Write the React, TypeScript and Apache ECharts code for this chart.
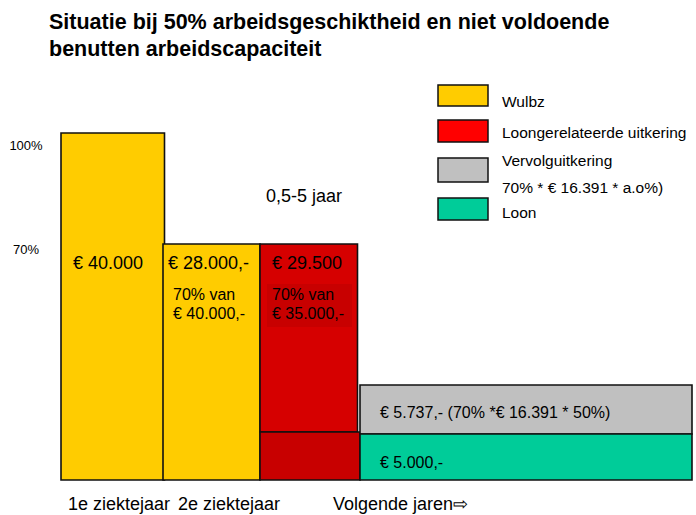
import React, { useEffect, useRef } from "react";
import * as echarts from "echarts";

// ---- data (x in period units, y in euro) ----
const titleLines = [
  "Situatie bij 50% arbeidsgeschiktheid en niet voldoende",
  "benutten arbeidscapaciteit",
];
const periodLabels = ["1e ziektejaar", "2e ziektejaar", "Volgende jaren⇨"];
const yTickLabels: Record<number, string> = { 40000: "100%", 28000: "70%" };

// [xStart, xEnd, yBottom, yTop]
const wulbzBlocks = [
  [0, 1.035, 0, 40000],
  [1.02, 1.99, 0, 27200],
];
const loongerelateerdBlocks = [[1.99, 2.965, 5530, 27200]];
const loongerelateerdBaseBlocks = [[1.99, 2.99, 0, 5530]];
const vervolgBlocks = [[2.99, 6.31, 5300, 10950]];
const loonBlocks = [[2.99, 6.31, 0, 5300]];

const amountLabels = ["€ 40.000", "€ 28.000,-", "€ 29.500"];
const subLabels = ["70% van\n€ 40.000,-", "70% van\n€ 35.000,-"];
const phaseLabel = "0,5-5 jaar";
const vervolgLabel = "€ 5.737,- (70% *€ 16.391 * 50%)";
const loonLabel = "€ 5.000,-";

const legendNames = [
  "Wulbz",
  "Loongerelateerde uitkering",
  "Vervolguitkering\n70% * € 16.391 * a.o%)",
  "Loon",
];
const legendColors = ["#ffcc00", "#ff0000", "#c0c0c0", "#00cc99"];

const FONT = "'Liberation Sans', Arial, Helvetica, sans-serif";

function blockSeries(name: string, data: number[][], color: string) {
  return {
    type: "custom",
    name,
    data,
    z: 2,
    encode: { x: [0, 1], y: [2, 3] },
    itemStyle: { color },
    renderItem: (params: any, api: any) => {
      const p0 = api.coord([api.value(0), api.value(2)]);
      const p1 = api.coord([api.value(1), api.value(3)]);
      return {
        type: "rect",
        shape: { x: p0[0], y: p1[1], width: p1[0] - p0[0], height: p0[1] - p1[1] },
        style: { fill: color, stroke: "#111", lineWidth: 1.6 },
      };
    },
  };
}

export default function App() {
  const ref = useRef<HTMLDivElement>(null);
  useEffect(() => {
    if (!ref.current) return;
    const chart = echarts.init(ref.current, null, { renderer: "svg" });
    const txt = (text: string, x: number, y: number, size: number, extra: any = {}) => ({
      type: "text",
      x,
      y,
      z: 100,
      style: {
        text,
        fill: "#000",
        font: `${size}px ${FONT}`,
        verticalAlign: "middle",
        ...extra,
      },
    });
    const legendY = [95.5, 131, 170, 209];
    const legendH = [21, 22, 24, 22];
    const legendTextY = [[101], [132], [160, 187], [212]];
    const graphics: any[] = [];
    legendNames.forEach((n, i) => {
      graphics.push({
        type: "rect",
        z: 100,
        shape: { x: 438, y: legendY[i] - legendH[i] / 2, width: 50, height: legendH[i] },
        style: { fill: legendColors[i], stroke: "#111", lineWidth: 1.5 },
      });
      n.split("\n").forEach((line, j) => {
        graphics.push(txt(line, 502, legendTextY[i][j], 15.5));
      });
    });
    graphics.push(
      txt(amountLabels[0], 73, 263, 18),
      txt(amountLabels[1], 168, 263, 18),
      txt(amountLabels[2], 272, 263, 18),
      { type: "rect", z: 99, shape: { x: 267, y: 284, width: 85, height: 43 }, style: { fill: "#c80000" } },
      txt(subLabels[0], 173, 303.5, 16, { lineHeight: 19 }),
      txt(subLabels[1], 272, 303.5, 16, { lineHeight: 19 }),
      txt(phaseLabel, 266, 196, 18),
      txt(vervolgLabel, 380, 412, 16),
      txt(loonLabel, 380, 462, 16),
      txt(periodLabels[0], 68, 504, 18),
      txt(periodLabels[1], 178, 504, 18),
      txt(periodLabels[2], 333, 504, 18)
    );

    chart.setOption({
      animation: false,
      title: {
        text: titleLines.join("\n"),
        left: 49,
        top: 8,
        padding: 0,
        textStyle: { fontSize: 21.5, fontWeight: "bold", fontFamily: FONT, lineHeight: 27, color: "#000" },
      },
      grid: { left: 61, right: 4, top: 133, bottom: 35 },
      xAxis: { type: "value", min: 0, max: 6.31, show: false },
      yAxis: {
        type: "value",
        min: 0,
        max: 40000,
        interval: 4000,
        axisLine: { show: false },
        axisTick: { show: false },
        splitLine: { show: false },
        axisLabel: {
          formatter: (v: number) => yTickLabels[v] ?? "",
          align: "center",
          verticalAlign: "top",
          padding: [6, 0, 0, 0],
          margin: 35,
          fontSize: 13,
          fontFamily: FONT,
          color: "#000",
        },
      },
      series: [
        blockSeries("Wulbz", wulbzBlocks, "#ffcc00"),
        blockSeries("Loongerelateerde uitkering", loongerelateerdBlocks, "#d60000"),
        blockSeries("Loongerelateerde uitkering (basis)", loongerelateerdBaseBlocks, "#c80000"),
        blockSeries("Vervolguitkering", vervolgBlocks, "#c0c0c0"),
        blockSeries("Loon", loonBlocks, "#00cc99"),
      ],
      graphic: graphics,
    });
    return () => chart.dispose();
  }, []);
  return (
    <div
      ref={ref}
      style={{ position: "absolute", left: 0, top: 0, width: 696, height: 515, background: "#fff" }}
    />
  );
}
